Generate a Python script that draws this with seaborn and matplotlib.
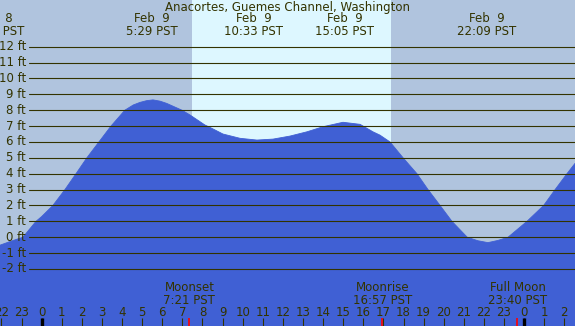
import numpy as np
import pandas as pd
import matplotlib
matplotlib.use("Agg")
import matplotlib.pyplot as plt
import matplotlib.transforms as mtransforms
import seaborn as sns

# ---- data (hours since Feb 9 00:00 PST, tide height in ft) ----
tide_hours = [-2.07, -1.5, -0.93, -0.28, 0.0, 0.56, 1.16, 1.71, 2.25, 2.85, 3.45, 4.14,
              4.56, 4.89, 5.22, 5.54, 5.89, 6.22, 6.98, 7.38, 8.12, 8.37, 9.02, 9.87,
              10.71, 11.51, 12.35, 13.20, 14.0, 14.99, 15.84, 16.48, 16.83, 17.33, 17.98,
              18.67, 19.22, 19.82, 20.41, 21.17, 21.7, 22.20, 22.7, 23.20, 24.14, 24.97,
              25.54, 26.13, 26.53]
tide_ft = [-0.5, -0.24, 0.0, 1.0, 1.3, 2.0, 3.0, 4.0, 5.0, 6.0, 7.0, 8.0,
           8.33, 8.49, 8.6, 8.65, 8.57, 8.43, 8.0, 7.7, 7.07, 6.92, 6.5, 6.23,
           6.12, 6.18, 6.37, 6.64, 6.96, 7.24, 7.11, 6.64, 6.43, 6.0, 5.0,
           4.0, 3.0, 2.0, 1.0, 0.0, -0.22, -0.34, -0.2, 0.0, 1.0, 2.0,
           3.0, 4.0, 4.65]

event_hours = [-2.32, 5.483, 10.55, 15.083, 22.15]
event_labels = ["Feb  8\n21:41 PST", "Feb  9\n5:29 PST", "Feb  9\n10:33 PST",
                "Feb  9\n15:05 PST", "Feb  9\n22:09 PST"]

moon_hours = [7.35, 16.95, 23.667]
moon_labels = ["Moonset\n7:21 PST", "Moonrise\n16:57 PST", "Full Moon\n23:40 PST"]

sunrise_hour = 7.46
sunset_hour = 17.38

ft_levels = list(range(-2, 13))
hour_ticks = list(range(-2, 27))
hour_labels = [str(h % 24) for h in hour_ticks]
midnight_hours = [0, 24]

title = "Anacortes, Guemes Channel, Washington"

# ---- style ----
sns.set_theme(style="white")
plt.rcParams["font.family"] = ["DejaVu Sans"]

night_bg = "#b0c4de"
day_bg = "#ddf7ff"
water = "#4060d4"
ink = "#333300"
fs = 8.5

fig = plt.figure(figsize=(5.75, 3.26), dpi=100)
ax = fig.add_axes([0, 0, 1, 1])
ax.set_xlim(-2.07, 26.53)
ax.set_ylim(-5.59, 14.94)
ax.set_facecolor(night_bg)
ax.set_axisbelow(False)
for s in ax.spines.values():
    s.set_visible(False)

ax.axvspan(sunrise_hour, sunset_hour, color=day_bg, zorder=0, lw=0)

df = pd.DataFrame({"hour": tide_hours, "ft": tide_ft})
ax.fill_between(df["hour"], df["ft"], -10, color=water, lw=0, zorder=1)
sns.lineplot(data=df, x="hour", y="ft", ax=ax, color=water, lw=0.6, zorder=1)
ax.set_xlabel("")
ax.set_ylabel("")

# horizontal level lines and labels
ytrans = mtransforms.blended_transform_factory(ax.transAxes, ax.transData)
for lv in ft_levels:
    ax.axhline(lv, xmin=29 / 575, xmax=1, color=ink, lw=0.8, zorder=2)
    ax.text(26 / 575, lv, f"{lv} ft", transform=ytrans, ha="right", va="center",
            fontsize=fs, color=ink, zorder=3)

# x ticks inside, at the bottom
ax.set_yticks([])
ax.set_xticks(hour_ticks)
ax.set_xticklabels(hour_labels)
ax.tick_params(axis="x", direction="in", length=5.8, width=0.8, color=ink,
               labelsize=fs, labelcolor=ink, pad=-14.4, bottom=True)

xtrans = mtransforms.blended_transform_factory(ax.transData, ax.transAxes)
ax.vlines(midnight_hours, 0, 8 / 326, transform=xtrans, color="black", lw=2.4, zorder=3)
ax.vlines(moon_hours, 0, 8 / 326, transform=xtrans, color="red", lw=1.2, zorder=3)

# event labels on top
for h, lab in zip(event_hours, event_labels):
    ax.text(h, 1 - 25 / 326, lab, transform=xtrans, ha="center", va="center",
            fontsize=fs, color=ink, linespacing=1.0, zorder=4)

for h, lab in zip(moon_hours, moon_labels):
    ax.text(h, 1 - 294 / 326, lab, transform=xtrans, ha="center", va="center",
            fontsize=fs, color=ink, linespacing=1.0, zorder=4)

ax.text(0.5, 1 - 7.5 / 326, title, transform=ax.transAxes, ha="center", va="center",
        fontsize=fs, color=ink, zorder=4)

fig.savefig("out.png", dpi=100)
